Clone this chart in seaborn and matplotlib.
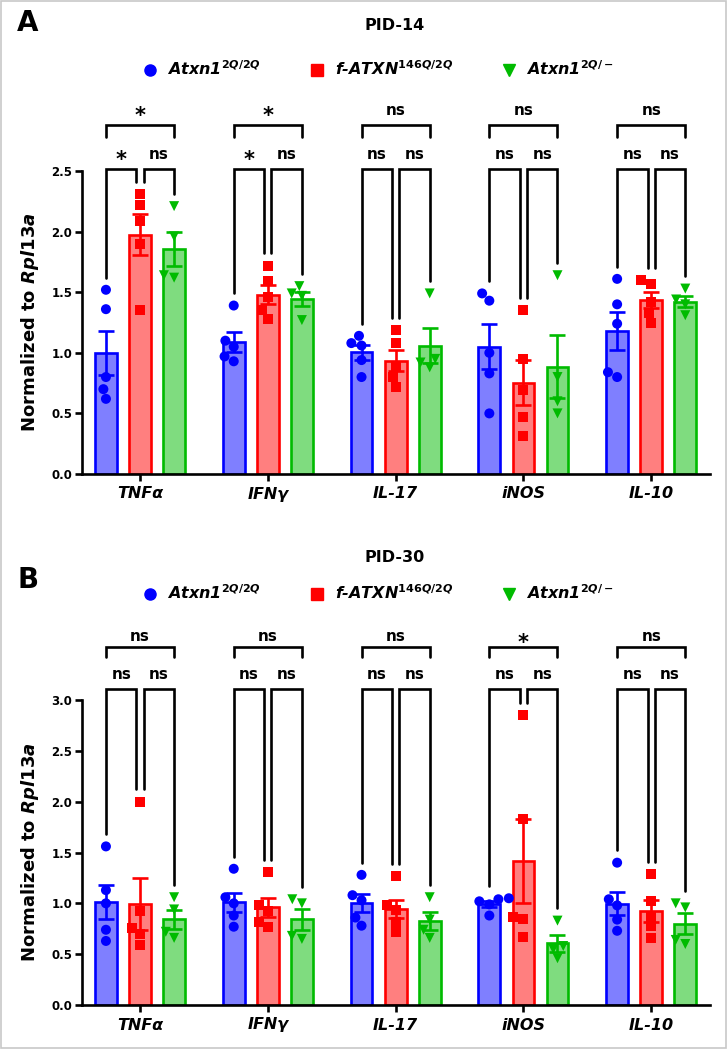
import numpy as np
import pandas as pd
import matplotlib
matplotlib.use("Agg")
import matplotlib.pyplot as plt
import seaborn as sns
from matplotlib.lines import Line2D
from matplotlib.colors import to_rgba
from matplotlib.patches import Rectangle

# ---------------- data ----------------
genes = ["TNFα", "IFNγ", "IL-17", "iNOS", "IL-10"]
genotypes = ["Atxn1 2Q/2Q", "f-ATXN 146Q/2Q", "Atxn1 2Q/-"]
legend_labels = [r"Atxn1$^{2Q/2Q}$", r"f-ATXN$^{146Q/2Q}$", r"Atxn1$^{2Q/-}$"]
colors = ["#0000FF", "#FF0000", "#00BB00"]
markers = ["o", "s", "v"]

# PID-14 individual values (per gene)
pid14_wt = [[1.52, 1.36, 0.80, 0.70, 0.62],
            [1.39, 1.10, 1.05, 0.97, 0.93],
            [1.14, 1.08, 1.06, 0.94, 0.80],
            [1.49, 1.43, 1.00, 0.83, 0.50],
            [1.61, 1.40, 1.24, 0.84, 0.80]]
pid14_f146 = [[2.31, 2.22, 2.09, 1.90, 1.35],
              [1.72, 1.59, 1.46, 1.35, 1.28],
              [1.19, 1.08, 0.88, 0.80, 0.72],
              [1.35, 0.95, 0.69, 0.47, 0.31],
              [1.60, 1.57, 1.42, 1.33, 1.25]]
pid14_ko = [[2.21, 1.96, 1.64, 1.62],
            [1.55, 1.49, 1.47, 1.27],
            [1.49, 0.95, 0.92, 0.88],
            [1.64, 0.80, 0.60, 0.50],
            [1.53, 1.44, 1.40, 1.31]]

# PID-30 individual values
pid30_wt = [[1.56, 1.13, 1.00, 0.74, 0.63],
            [1.34, 1.06, 1.00, 0.88, 0.77],
            [1.28, 1.08, 1.03, 0.86, 0.78],
            [1.05, 1.04, 1.02, 0.99, 0.88],
            [1.40, 1.04, 0.98, 0.84, 0.73]]
pid30_f146 = [[2.00, 0.92, 0.76, 0.70, 0.59],
              [1.31, 0.98, 0.92, 0.82, 0.77],
              [1.27, 0.98, 0.93, 0.82, 0.72],
              [2.85, 1.83, 0.87, 0.85, 0.67],
              [1.29, 1.02, 0.88, 0.78, 0.66]]
pid30_ko = [[1.06, 0.94, 0.72, 0.66],
            [1.04, 1.00, 0.68, 0.65],
            [1.06, 0.84, 0.74, 0.66],
            [0.83, 0.58, 0.55, 0.46],
            [1.00, 0.96, 0.64, 0.60]]

# significance (left pair, right pair, outer pair) per gene
pid14_sig = [("*", "ns", "*"), ("*", "ns", "*"), ("ns", "ns", "ns"),
             ("ns", "ns", "ns"), ("ns", "ns", "ns")]
pid30_sig = [("ns", "ns", "ns"), ("ns", "ns", "ns"), ("ns", "ns", "ns"),
             ("ns", "ns", "*"), ("ns", "ns", "ns")]


def make_df(groups):
    rows = []
    for gt, grp in zip(genotypes, groups):
        for gene, vals in zip(genes, grp):
            for v in vals:
                rows.append({"gene": gene, "genotype": gt, "value": v})
    return pd.DataFrame(rows)


df14 = make_df([pid14_wt, pid14_f146, pid14_ko])
df30 = make_df([pid30_wt, pid30_f146, pid30_ko])

# ---------------- style ----------------
sns.set_theme(style="ticks")
plt.rcParams.update({
    "font.family": ["DejaVu Sans"],
    "font.weight": "bold",
    "axes.labelweight": "bold",
    "text.color": "black",
    "axes.labelcolor": "black",
    "xtick.color": "black",
    "ytick.color": "black",
    "mathtext.fontset": "custom",
    "mathtext.it": "DejaVu Sans:italic:bold",
    "mathtext.rm": "DejaVu Sans:bold",
    "mathtext.bf": "DejaVu Sans:bold",
    "mathtext.default": "it",
})

W, H = 727, 1049
fig = plt.figure(figsize=(W / 100, H / 100), dpi=100)
fig.patch.set_facecolor("white")
fig.patches.append(Rectangle((0.001, 0.001), 0.998, 0.998, transform=fig.transFigure,
                             fill=False, edgecolor="#c8c8c8", linewidth=1.2))

palette = dict(zip(genotypes, colors))
hue_off = (np.arange(3) - 1) * 0.8 / 3
LW = 1.9


def draw_panel(ax, df, sig, ymax, ystep, lower_y, lower_txt, top_y, top_txt, top_leg, leg_off):
    sns.barplot(data=df, x="gene", y="value", hue="genotype", order=genes,
                hue_order=genotypes, palette=palette, errorbar=None,
                width=0.8, gap=0.36, ax=ax, legend=False)
    for cont, c in zip(ax.containers, colors):
        for p in cont:
            p.set_facecolor(to_rgba(c, 0.5))
            p.set_edgecolor(c)
            p.set_linewidth(LW)
            p.set_zorder(2)

    stats = df.groupby(["genotype", "gene"])["value"].agg(["mean", "sem", "max"])
    for i, gt in enumerate(genotypes):
        st = stats.loc[gt].reindex(genes)
        x = np.arange(len(genes)) + hue_off[i]
        ax.errorbar(x, st["mean"], yerr=st["sem"], fmt="none", ecolor=colors[i],
                    elinewidth=LW, capsize=5.5, capthick=LW, zorder=1.5)

    for i, gt in enumerate(genotypes):
        sns.swarmplot(data=df[df.genotype == gt], x="gene", y="value", hue="genotype",
                      order=genes, hue_order=genotypes, palette=palette, dodge=True,
                      marker=markers[i], size=7.2, linewidth=0, ax=ax, legend=False,
                      zorder=3)

    # brackets
    gap = 0.028
    for ci, gene in enumerate(genes):
        tops = []
        for i, gt in enumerate(genotypes):
            s = stats.loc[(gt, gene)]
            tops.append(max(s["max"], s["mean"] + s["sem"]) + leg_off)
        xb, xr, xg = ci + hue_off[0], ci + hue_off[1], ci + hue_off[2]
        kw = dict(color="black", lw=LW, clip_on=False, solid_joinstyle="miter", zorder=4)
        ax.plot([xb, xb, xr - gap, xr - gap], [tops[0], lower_y, lower_y, tops[1]], **kw)
        ax.plot([xr + gap, xr + gap, xg, xg], [tops[1], lower_y, lower_y, tops[2]], **kw)
        ax.plot([xb, xb, xg, xg], [top_y - top_leg, top_y, top_y, top_y - top_leg], **kw)
        for (txt, xc, yc) in [(sig[ci][0], (xb + xr - gap) / 2, lower_txt),
                              (sig[ci][1], (xr + gap + xg) / 2, lower_txt),
                              (sig[ci][2], (xb + xg) / 2, top_txt)]:
            if txt == "*":
                ax.text(xc, yc - 0.02 * ymax, txt, ha="center", va="center",
                        fontsize=15, fontweight="bold", clip_on=False)
            else:
                ax.text(xc, yc, txt, ha="center", va="center",
                        fontsize=11, fontweight="bold", clip_on=False)

    ax.set_xlim(-0.454, 4.46)
    ax.set_ylim(0, ymax)
    ax.set_yticks(np.arange(0, ymax + 1e-9, ystep))
    ax.set_yticklabels([f"{t:.1f}" for t in np.arange(0, ymax + 1e-9, ystep)],
                       fontsize=8.5, fontweight="bold")
    ax.set_xticks(range(len(genes)))
    ax.set_xticklabels(genes, fontsize=11.5, fontweight="bold", fontstyle="italic")
    ax.set_xlabel("")
    ax.set_ylabel("Normalized to $Rpl13a$", fontsize=13, fontweight="bold")
    ax.yaxis.set_label_coords(-0.066, 0.5)
    sns.despine(ax=ax)
    for sp in ("left", "bottom"):
        ax.spines[sp].set_linewidth(LW)
        ax.spines[sp].set_color("black")
    ax.tick_params(axis="y", length=5, width=LW, pad=2, colors="black")
    ax.tick_params(axis="x", length=5, width=LW, pad=4, colors="black")
    ax.set_facecolor("white")
    ax.grid(False)


def add_legend(ax, ycenter):
    handles = [Line2D([], [], marker=m, color=c, linestyle="None", markersize=8)
               for m, c in zip(markers, colors)]
    ax.legend(handles, legend_labels, ncol=3, loc="center",
              bbox_to_anchor=(378 / W, 1 - ycenter / H), bbox_transform=fig.transFigure,
              frameon=False, prop={"weight": "bold", "style": "italic", "size": 11.5},
              handlelength=1.0, handletextpad=0.6, columnspacing=3.0)


axA = fig.add_axes([82 / W, 1 - 474 / H, 628 / W, 303 / H])
draw_panel(axA, df14, pid14_sig, 2.5, 0.5, 2.52, 2.64, 2.88, 3.0, 0.1, 0.1)
add_legend(axA, 69)

axB = fig.add_axes([82 / W, 1 - 1005 / H, 628 / W, 305 / H])
draw_panel(axB, df30, pid30_sig, 3.0, 0.5, 3.11, 3.25, 3.52, 3.62, 0.1, 0.12)
add_legend(axB, 593)

fig.text(395 / W, 1 - 26 / H, "PID-14", ha="center", va="center", fontsize=11.5, fontweight="bold")
fig.text(395 / W, 1 - 557 / H, "PID-30", ha="center", va="center", fontsize=11.5, fontweight="bold")
fig.text(28 / W, 1 - 23 / H, "A", ha="center", va="center", fontsize=20, fontweight="bold")
fig.text(28 / W, 1 - 580 / H, "B", ha="center", va="center", fontsize=20, fontweight="bold")

fig.savefig("out.png", dpi=100, facecolor="white")
